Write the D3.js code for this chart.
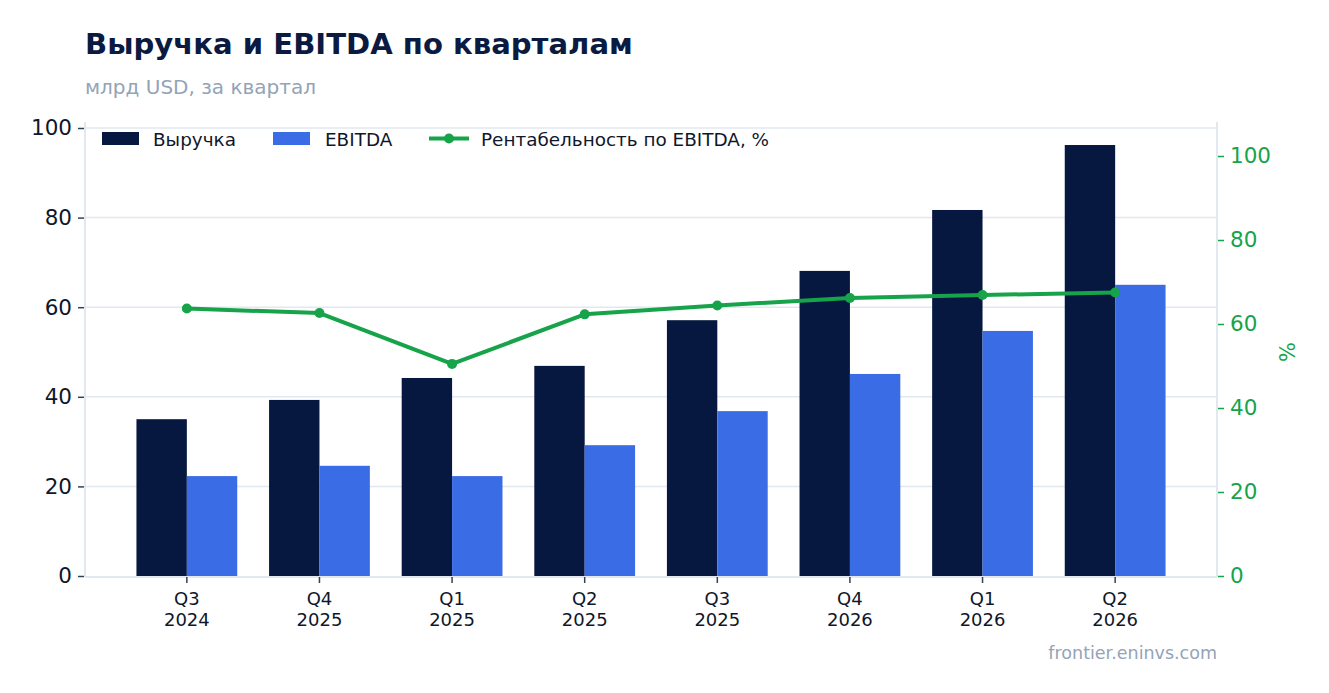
<!DOCTYPE html>
<html><head><meta charset="utf-8">
<script src="https://cdn.jsdelivr.net/npm/d3@7"></script>
<style>
html,body{margin:0;padding:0;background:#fff;}
svg{display:block;font-family:"DejaVu Sans",sans-serif;}
</style></head>
<body>
<svg id="chart" width="1329" height="693"></svg>
<script>
const quarters = ["Q3", "Q4", "Q1", "Q2", "Q3", "Q4", "Q1", "Q2"];
const years = ["2024", "2025", "2025", "2025", "2025", "2026", "2026", "2026"];
const revenue = [35.0, 39.3, 44.2, 46.9, 57.1, 68.1, 81.7, 96.2];
const ebitda = [22.3, 24.6, 22.3, 29.2, 36.8, 45.1, 54.7, 65.0];
const margin = [63.7, 62.6, 50.5, 62.3, 64.4, 66.2, 66.9, 67.5];
const leftTicks = [0, 20, 40, 60, 80, 100];
const rightTicks = [0, 20, 40, 60, 80, 100];
const seriesNames = ["Выручка", "EBITDA", "Рентабельность по EBITDA, %"];

const C_REV = "#061740", C_EB = "#3a6ce6", C_GREEN = "#16a34a";
const GRID = "#e2e8f0", TXT = "#0f172a";

const svg = d3.select("#chart");
const L = 85, R = 1217, T = 128, B = 576;
const cats = quarters.map((q, i) => i);

const x = d3.scaleBand().domain(cats).range([L, R]).paddingInner(0.24).paddingOuter(0.388);
const xs = d3.scaleBand().domain([0, 1]).range([0, x.bandwidth()]);
const y = d3.scaleLinear().domain([0, 100]).range([B, T]);
const y2 = d3.scaleLinear().domain([0, 106.67]).range([B, T]);

// title
svg.append("text").attr("x", 85).attr("y", 54).attr("font-size", 29.1).attr("font-weight", "bold")
  .attr("fill", "#0b1a40").text("Выручка и EBITDA по кварталам");
svg.append("text").attr("x", 85).attr("y", 94).attr("font-size", 20).attr("fill", "#94a3b8")
  .text("млрд USD, за квартал");

// grid
svg.append("g").selectAll("line").data(leftTicks.filter(d => d > 0)).join("line")
  .attr("x1", L).attr("x2", R).attr("y1", d => y(d)).attr("y2", d => y(d))
  .attr("stroke", GRID).attr("stroke-width", 1.5);

// bars
const g = svg.append("g");
cats.forEach(i => {
  g.append("rect").attr("x", x(i) + xs(0)).attr("width", xs.bandwidth())
    .attr("y", y(revenue[i])).attr("height", B - y(revenue[i])).attr("fill", C_REV);
  g.append("rect").attr("x", x(i) + xs(1)).attr("width", xs.bandwidth())
    .attr("y", y(ebitda[i])).attr("height", B - y(ebitda[i])).attr("fill", C_EB);
});

// axes lines
svg.append("line").attr("x1", L).attr("x2", L).attr("y1", 122).attr("y2", B + 1).attr("stroke", GRID).attr("stroke-width", 2);
svg.append("line").attr("x1", R).attr("x2", R).attr("y1", 122).attr("y2", B + 1).attr("stroke", GRID).attr("stroke-width", 2);
svg.append("line").attr("x1", L).attr("x2", R).attr("y1", B + 1).attr("y2", B + 1).attr("stroke", GRID).attr("stroke-width", 2);

// left axis
const ga = svg.append("g").attr("transform", `translate(${L - 1},0)`)
  .call(d3.axisLeft(y).tickValues(leftTicks).tickSize(6).tickPadding(6));
ga.select(".domain").remove();
ga.selectAll(".tick line").attr("stroke", "#334155").attr("stroke-width", 1.5);
ga.selectAll(".tick text").attr("font-size", 21.5).attr("fill", TXT).attr("font-family", "DejaVu Sans");

// right axis
const gr = svg.append("g").attr("transform", `translate(${R + 1},0)`)
  .call(d3.axisRight(y2).tickValues(rightTicks).tickSize(6).tickPadding(6));
gr.select(".domain").remove();
gr.selectAll(".tick line").attr("stroke", C_GREEN).attr("stroke-width", 1.5);
gr.selectAll(".tick text").attr("font-size", 21.5).attr("fill", C_GREEN).attr("font-family", "DejaVu Sans");

svg.append("text").attr("transform", `translate(1295,${(T + B) / 2}) rotate(-90)`)
  .attr("text-anchor", "middle").attr("font-size", 21).attr("fill", C_GREEN).text("%");

// bottom axis
const gb = svg.append("g").attr("transform", `translate(0,${B + 1})`)
  .call(d3.axisBottom(x).tickSize(6).tickFormat(""));
gb.select(".domain").remove();
gb.selectAll(".tick line").attr("stroke", "#334155").attr("stroke-width", 1.5);
gb.selectAll(".tick").each(function(d) {
  const t = d3.select(this).append("text").attr("text-anchor", "middle").attr("font-size", 18)
    .attr("fill", TXT).attr("font-family", "DejaVu Sans");
  t.append("tspan").attr("x", 0).attr("y", 28).text(quarters[d]);
  t.append("tspan").attr("x", 0).attr("y", 49).text(years[d]);
});

// line
const cx = i => x(i) + x.bandwidth() / 2;
svg.append("path").datum(cats)
  .attr("d", d3.line().x(i => cx(i)).y(i => y2(margin[i])))
  .attr("fill", "none").attr("stroke", C_GREEN).attr("stroke-width", 4).attr("stroke-linejoin", "round");
svg.append("g").selectAll("circle").data(cats).join("circle")
  .attr("cx", i => cx(i)).attr("cy", i => y2(margin[i])).attr("r", 5).attr("fill", C_GREEN);

// legend
const lg = svg.append("g").attr("font-size", 18.4).attr("fill", TXT);
lg.append("rect").attr("x", 102).attr("y", 132).attr("width", 37).attr("height", 13).attr("fill", C_REV);
lg.append("text").attr("x", 153).attr("y", 145.5).attr("fill", TXT).text(seriesNames[0]);
lg.append("rect").attr("x", 273).attr("y", 132).attr("width", 37).attr("height", 13).attr("fill", C_EB);
lg.append("text").attr("x", 325).attr("y", 145.5).attr("fill", TXT).text(seriesNames[1]);
lg.append("line").attr("x1", 429).attr("x2", 469).attr("y1", 138.5).attr("y2", 138.5).attr("stroke", C_GREEN).attr("stroke-width", 4);
lg.append("circle").attr("cx", 449).attr("cy", 138.5).attr("r", 5).attr("fill", C_GREEN);
lg.append("text").attr("x", 481).attr("y", 145.5).attr("fill", TXT).text(seriesNames[2]);

// footer
svg.append("text").attr("x", 1217).attr("y", 659).attr("text-anchor", "end").attr("font-size", 17.5)
  .attr("fill", "#94a3b8").text("frontier.eninvs.com");
</script>
</body></html>
